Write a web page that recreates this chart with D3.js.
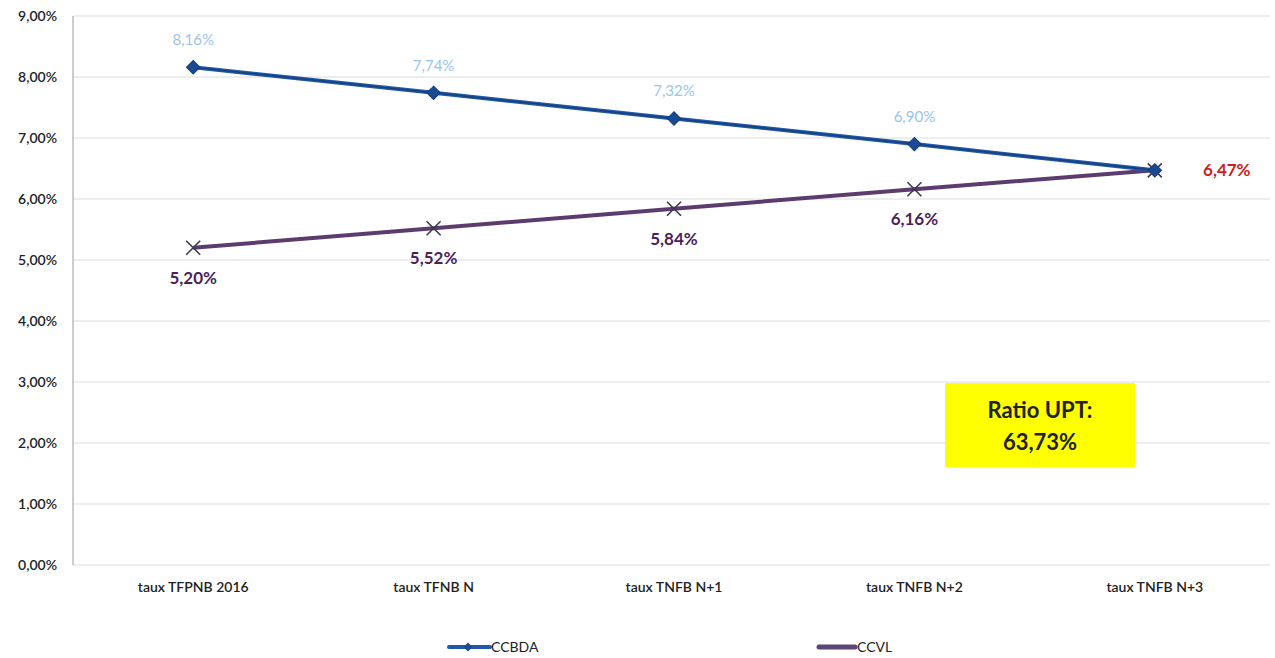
<!DOCTYPE html>
<html><head><meta charset="utf-8">
<script src="https://cdn.jsdelivr.net/npm/d3@7"></script>
<style>body{margin:0;background:#fff}svg{display:block;font-family:Lato,"Open Sans",sans-serif}</style>
</head><body><svg id="c" width="1275" height="658"></svg>
<script>
const categories = ["taux TFPNB 2016","taux TFNB N","taux TNFB N+1","taux TNFB N+2","taux TNFB N+3"];
const ccbda = [8.16, 7.74, 7.32, 6.90, 6.47];
const ccvl = [5.20, 5.52, 5.84, 6.16, 6.47];
const yTicks = [0,1,2,3,4,5,6,7,8,9];
const seriesNames = ["CCBDA","CCVL"];
const ratioText = ["Ratio UPT:","63,73%"];

const svg = d3.select("#c");
const fmt = v => v.toFixed(2).replace(".", ",") + "%";
const x = d3.scaleBand().domain(categories).range([73, 1275]);
const y = d3.scaleLinear().domain([0, 9]).range([565, 16]);

svg.append("g").selectAll("line").data(yTicks).join("line")
  .attr("x1", 73).attr("x2", 1270).attr("y1", d => y(d)).attr("y2", d => y(d))
  .attr("stroke", "#dcdcdc").attr("stroke-width", 1);
svg.append("line").attr("x1", 73).attr("x2", 73).attr("y1", y(9)).attr("y2", y(0))
  .attr("stroke", "#bdbdbd").attr("stroke-width", 1.5);

const ya = svg.append("g").attr("transform", "translate(73,0)")
  .call(d3.axisLeft(y).tickValues(yTicks).tickFormat(fmt).tickSize(0).tickPadding(16));
ya.select(".domain").remove();
ya.selectAll("text").attr("font-size", 14).attr("fill", "#222").attr("font-weight", 600).attr("font-family", "Lato,sans-serif");

const xa = svg.append("g").attr("transform", "translate(0,574)")
  .call(d3.axisBottom(x).tickSize(0).tickPadding(8));
xa.select(".domain").remove();
xa.selectAll("text").attr("font-size", 14).attr("fill", "#222").attr("font-weight", 600).attr("font-family", "Lato,sans-serif");

const cx = d => x(d) + x.bandwidth() / 2;
const line = d3.line().x((d, i) => cx(categories[i])).y(d => y(d));

svg.append("path").datum(ccvl).attr("d", line).attr("fill", "none")
  .attr("stroke", "#5c3b6f").attr("stroke-width", 4);
svg.append("path").datum(ccbda).attr("d", line).attr("fill", "none")
  .attr("stroke", "#2158a8").attr("stroke-width", 4);
svg.append("path").datum(ccbda).attr("d", line).attr("fill", "none")
  .attr("stroke", "#17407e").attr("stroke-width", 1.5);

const xm = svg.append("g");
ccvl.forEach((v, i) => {
  const px = cx(categories[i]), py = y(v);
  xm.append("path").attr("d", `M${px-7},${py-7}L${px+7},${py+7}M${px-7},${py+7}L${px+7},${py-7}`)
    .attr("stroke", "#3a3a4a").attr("stroke-width", 1.6);
});
svg.append("g").selectAll("path").data(ccbda).join("path")
  .attr("d", d3.symbol().type(d3.symbolSquare).size(90))
  .attr("transform", (d, i) => `translate(${cx(categories[i])},${y(d)}) rotate(45)`)
  .attr("fill", "#1a4b92").attr("stroke", "#123a73").attr("stroke-width", 1);

svg.append("g").selectAll("text").data(ccbda.slice(0, 4)).join("text")
  .attr("x", (d, i) => cx(categories[i])).attr("y", d => y(d) - 22)
  .attr("text-anchor", "middle").attr("font-size", 15).attr("fill", "#9cc3ea")
  .text(fmt);
svg.append("g").selectAll("text").data(ccvl.slice(0, 4)).join("text")
  .attr("x", (d, i) => cx(categories[i])).attr("y", d => y(d) + 36)
  .attr("text-anchor", "middle").attr("font-size", 17).attr("font-weight", "bold").attr("fill", "#4a1f5c")
  .text(fmt);
svg.append("text").attr("x", cx(categories[4]) + 72).attr("y", y(ccvl[4]) + 6)
  .attr("text-anchor", "middle").attr("font-size", 17).attr("font-weight", "bold").attr("fill", "#d01c1c")
  .text(fmt(ccvl[4]));

svg.append("rect").attr("x", 945).attr("y", 383).attr("width", 190).attr("height", 84).attr("fill", "#ffff00");
svg.append("text").attr("x", 1040).attr("y", 418).attr("text-anchor", "middle")
  .attr("font-size", 22).attr("font-weight", "bold").attr("fill", "#222").text(ratioText[0]);
svg.append("text").attr("x", 1040).attr("y", 450).attr("text-anchor", "middle")
  .attr("font-size", 22).attr("font-weight", "bold").attr("fill", "#222").text(ratioText[1]);

const lg = svg.append("g");
lg.append("line").attr("x1", 449).attr("x2", 490).attr("y1", 647).attr("y2", 647).attr("stroke", "#2158a8").attr("stroke-width", 4).attr("stroke-linecap", "round");
lg.append("path").attr("d", d3.symbol().type(d3.symbolSquare).size(40)).attr("transform", "translate(468,647) rotate(45)").attr("fill", "#1a4b92");
lg.append("text").attr("x", 491).attr("y", 652).attr("font-size", 14).attr("fill", "#222").text(seriesNames[0]);
lg.append("line").attr("x1", 819).attr("x2", 855).attr("y1", 647).attr("y2", 647).attr("stroke", "#5c4675").attr("stroke-width", 5).attr("stroke-linecap", "round");
lg.append("text").attr("x", 857).attr("y", 652).attr("font-size", 14).attr("fill", "#222").text(seriesNames[1]);
</script></body></html>
